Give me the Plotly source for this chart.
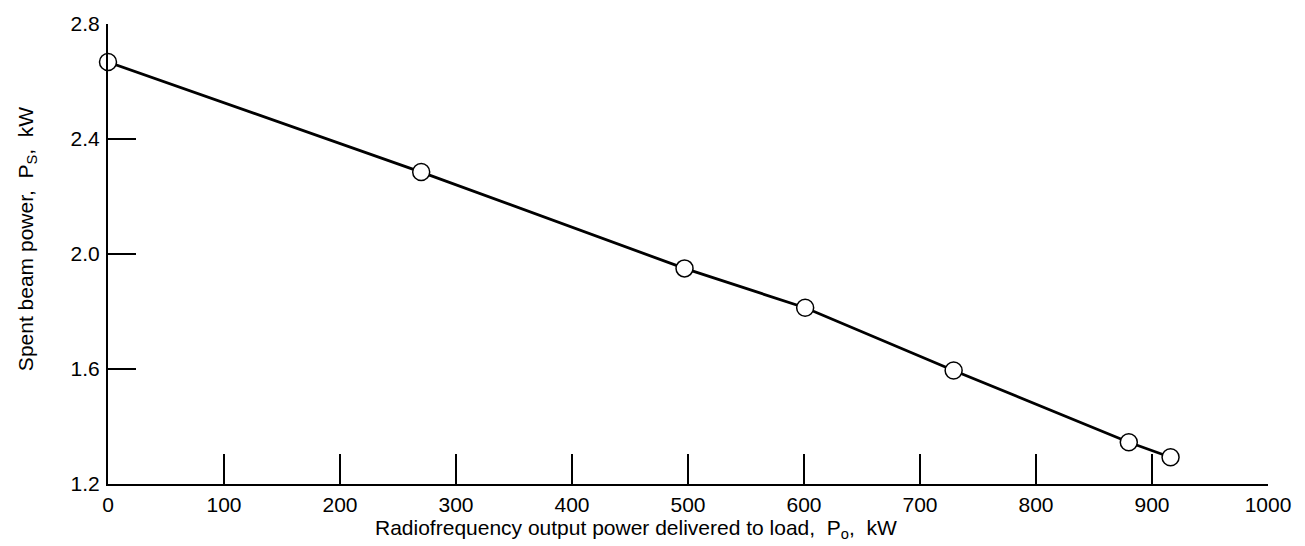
import plotly.graph_objects as go

rf_power_kw = [0, 270, 497, 601, 729, 880, 916]
spent_beam_kw = [2.668, 2.285, 1.950, 1.813, 1.595, 1.345, 1.293]

x_ticks = [0, 100, 200, 300, 400, 500, 600, 700, 800, 900, 1000]
x_tick_text = [str(v) for v in x_ticks]
y_ticks = [1.2, 1.6, 2.0, 2.4, 2.8]
y_tick_text = ["1.2", "1.6", "2.0", "2.4", "2.8"]

x_title = "Radiofrequency output power delivered to load,  P<sub>o</sub>,  kW"
y_title = "Spent beam power,  P<sub>S</sub>,  kW"

font_family = "Liberation Sans, Arial, sans-serif"

fig = go.Figure()
fig.add_trace(go.Scatter(
    x=rf_power_kw, y=spent_beam_kw, mode="lines+markers",
    line=dict(color="black", width=2.8),
    marker=dict(symbol="circle", size=17, color="white",
                line=dict(color="black", width=1.5)),
    cliponaxis=False, showlegend=False,
))

fig.update_layout(
    width=1305, height=546,
    margin=dict(l=108, r=37, t=20, b=62),
    plot_bgcolor="white", paper_bgcolor="white",
    font=dict(family=font_family, color="black", size=21),
    xaxis=dict(
        range=[0, 1000], tickvals=x_ticks, ticktext=x_tick_text,
        ticks="inside", ticklen=30, tickwidth=1.5, tickcolor="black",
        showline=True, linecolor="black", linewidth=2,
        showgrid=False, zeroline=False, ticklabelstandoff=1,
    ),
    yaxis=dict(
        range=[1.2, 2.8], tickvals=y_ticks, ticktext=y_tick_text,
        ticks="inside", ticklen=28, tickwidth=1.5, tickcolor="black",
        showline=True, linecolor="black", linewidth=2,
        showgrid=False, zeroline=False, ticklabelstandoff=2,
    ),
    annotations=[
        dict(text=x_title, xref="paper", yref="paper",
             x=(636 - 108) / 1160, y=(484 - 545) / 464, xanchor="center", yanchor="bottom",
             showarrow=False, font=dict(size=21)),
        dict(text=y_title, xref="paper", yref="paper",
             x=(27 - 108) / 1160, y=(484 - 237) / 464, xanchor="center", yanchor="middle",
             textangle=-90, showarrow=False, font=dict(size=21)),
    ],
)

fig.write_html("out.html")
